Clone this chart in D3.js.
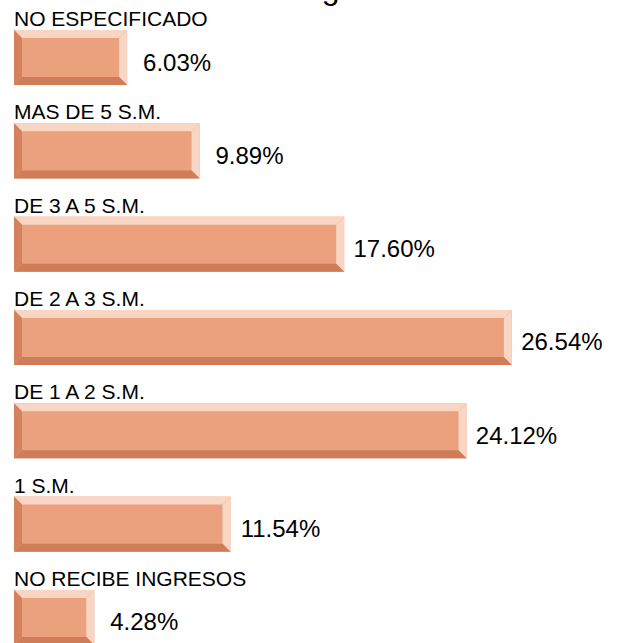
<!DOCTYPE html>
<html>
<head>
<meta charset="utf-8">
<script src="https://cdn.jsdelivr.net/npm/d3@7"></script>
<style>
  html, body { margin: 0; padding: 0; background: #ffffff; }
  #plotDiv { width: 621px; height: 643px; }
  text { font-family: "Liberation Sans", Arial, sans-serif; fill: #000000; }
</style>
</head>
<body>
<div id="plotDiv"></div>
<script>
var categories = ["NO ESPECIFICADO", "MAS DE 5 S.M.", "DE 3 A 5 S.M.", "DE 2 A 3 S.M.",
                  "DE 1 A 2 S.M.", "1 S.M.", "NO RECIBE INGRESOS"];
var values = [6.03, 9.89, 17.60, 26.54, 24.12, 11.54, 4.28];
var valueLabels = ["6.03%", "9.89%", "17.60%", "26.54%", "24.12%", "11.54%", "4.28%"];
var titleText = "Ingreso";

window.addEventListener("load", makeChart)

function makeChart() {
    var widthSVG = 621;
    var heightSVG = 643;
    var bevel = 8;

    var svg = d3.select('#plotDiv')
        .append('svg')
        .attr('width', widthSVG)
        .attr('height', heightSVG)
        .attr('id', "plotSVG");

    var data = categories.map(function(c, i) {
        return {cat: c, val: values[i], lab: valueLabels[i]};
    });

    var x = d3.scaleLinear()
        .domain([0, 30])
        .range([14, 14 + 30 * 18.76]);

    var y = d3.scaleBand()
        .domain(categories)
        .range([30, 645])
        .paddingInner(0.41)
        .paddingOuter(0);

    // title, mostly above the visible area (only the descender shows)
    svg.append('text')
        .attr('x', 295)
        .attr('y', -1)
        .style('font-size', '32px')
        .text(titleText);

    var bars = svg.append('g')
        .attr('id', "bars")
        .selectAll('g')
        .data(data)
        .enter()
        .append('g')
        .attr('transform', function(d) { return "translate(0," + y(d.cat) + ")"; });

    var h = y.bandwidth();

    // face, then bevel pieces: top & right light, left & bottom dark
    bars.append('rect')
        .attr('x', x(0))
        .attr('y', 0)
        .attr('width', function(d) { return x(d.val) - x(0); })
        .attr('height', h)
        .attr('fill', "#eba07e");

    bars.append('path')
        .attr('fill', "#f9d5c3")
        .attr('d', function(d) {
            var x0 = x(0), x1 = x(d.val);
            return "M" + x0 + ",0 L" + x1 + ",0 L" + (x1 - bevel) + "," + bevel +
                   " L" + (x0 + bevel) + "," + bevel + "Z";
        });

    bars.append('path')
        .attr('fill', "#f9d5c3")
        .attr('d', function(d) {
            var x1 = x(d.val);
            return "M" + x1 + ",0 L" + x1 + "," + h + " L" + (x1 - bevel) + "," + (h - bevel) +
                   " L" + (x1 - bevel) + "," + bevel + "Z";
        });

    bars.append('path')
        .attr('fill', "#d3825d")
        .attr('d', function(d) {
            var x0 = x(0);
            return "M" + x0 + ",0 L" + (x0 + bevel) + "," + bevel + " L" + (x0 + bevel) + "," + (h - bevel) +
                   " L" + x0 + "," + h + "Z";
        });

    bars.append('path')
        .attr('fill', "#cf7d58")
        .attr('d', function(d) {
            var x0 = x(0), x1 = x(d.val);
            return "M" + x0 + "," + h + " L" + (x0 + bevel) + "," + (h - bevel) +
                   " L" + (x1 - bevel) + "," + (h - bevel) + " L" + x1 + "," + h + "Z";
        });

    bars.append('text')
        .attr('class', "catLabel")
        .attr('x', x(0))
        .attr('y', -4)
        .style('font-size', '21px')
        .text(function(d) { return d.cat; });

    bars.append('text')
        .attr('class', "valLabel")
        .attr('x', function(d) { return x(d.val) + 50; })
        .attr('y', h / 2 + 13)
        .attr('text-anchor', "middle")
        .style('font-size', '24px')
        .text(function(d) { return d.lab; });
}
</script>
</body>
</html>
